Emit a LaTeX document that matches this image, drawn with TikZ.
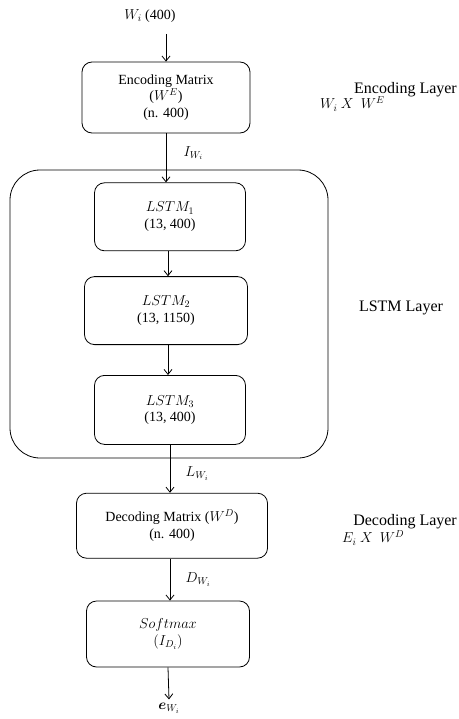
\documentclass[tikz,border=0pt]{standalone}
\usepackage{fontspec}
\setmainfont{Liberation Serif}
\usepackage{amsmath}
\usetikzlibrary{arrows.meta,positioning}

\begin{document}
\begin{tikzpicture}[x=1pt, y=-1pt, node distance=2cm,
    every node/.style={font=\fontsize{14}{16.5}\selectfont},
    block/.style={rectangle, draw, rounded corners=10pt, line width=0.8pt, align=center, inner sep=2pt},
    layerlabel/.style={font=\fontsize{16}{18}\selectfont, inner sep=0pt},
    link/.style={-{Straight Barb[length=5pt,width=8pt]}, line width=0.8pt}]
    \useasboundingbox (0,0) rectangle (458,719);

    % LSTM layer frame
    \node (lstmlayer) [rectangle, draw, rounded corners=30pt, line width=0.8pt, minimum width=318pt, minimum height=288pt] at (169,314) {};

    \node (input) at (150,16) {$W_i$ (400)};
    \node (enc) [block, minimum width=168pt, minimum height=71pt] at (166,97.5) {Encoding Matrix\\($W^E$)\\(n. 400)};
    \node (lstm1) [block, below=49pt of enc, xshift=4pt, minimum width=151pt, minimum height=68pt] {$LSTM_1$\\(13, 400)};
    \node (lstm2) [block, below=25pt of lstm1, xshift=-4pt, minimum width=163pt, minimum height=68pt] {$LSTM_2$\\(13, 1150)};
    \node (lstm3) [block, below=30pt of lstm2, xshift=4pt, minimum width=151pt, minimum height=69pt] {$LSTM_3$\\(13, 400)};
    \node (dec) [block, below=48pt of lstm3, xshift=2pt, minimum width=191pt, minimum height=65pt] {Decoding Matrix ($W^D$)\\(n. 400)};
    \node (soft) [block, below=42pt of dec, xshift=-4pt, minimum width=163pt, minimum height=66pt] {$Softmax$\\$(I_{D_i})$};
    \node (output) at (169,708) {$\boldsymbol{e}_{W_i}$};

    % layer labels
    \node (enclayer) [layerlabel, anchor=east] at (457,90) {Encoding Layer};
    \node (encform) [anchor=west, inner sep=0pt] at (320,104) {$W_i\ X\ \ W^E$};
    \node (lstmlabel) [layerlabel] at (401,308) {LSTM Layer};
    \node (declayer) [layerlabel, anchor=east] at (457,522) {Decoding Layer};
    \node (decform) [anchor=west, inner sep=0pt] at (342,538) {$E_i\ X\ \ W^D$};

    \draw [link] (input.south -| enc.north) ++(0,8) -- (enc.north);
    \draw [link] (enc.south) -- (enc.south |- lstm1.north) node [pos=0.4, right=14pt] {$I_{W_i}$};
    \draw [link] (lstm1.south -| lstm2.north) ++(2,0) -- ++(0,25);
    \draw [link] (lstm2.south -| lstm2.north) ++(2,0) -- ++(0,30);
    \draw [link] (lstm3.south) -- (lstm3.south |- dec.north) node [pos=0.6, right=12pt] {$L_{W_i}$};
    \draw [link] (dec.south -| soft.north) ++(2,0) -- ++(0,42) node [midway, right=12pt] {$D_{W_i}$};
    \draw [link] (soft.south) -- (output.north);
\end{tikzpicture}
\end{document}
